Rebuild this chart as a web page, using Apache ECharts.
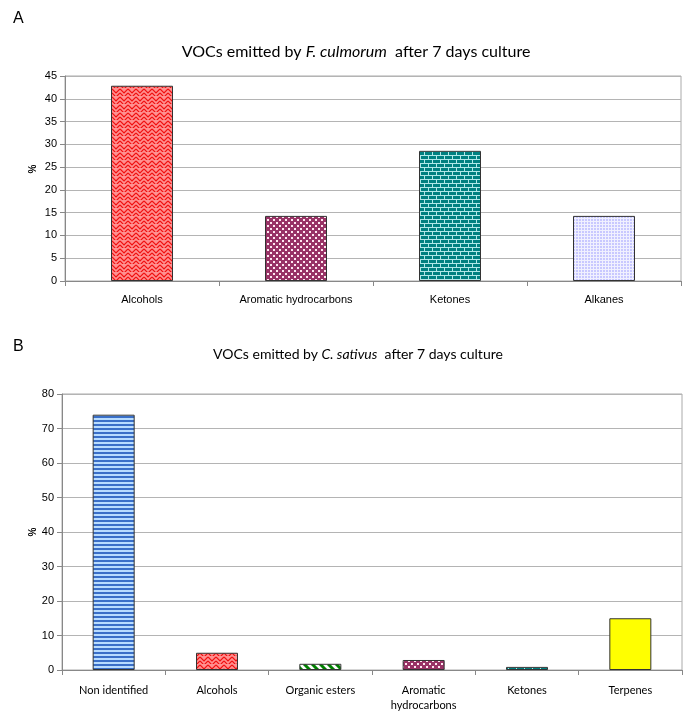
<!DOCTYPE html>
<html><head><meta charset="utf-8">
<script src="https://cdn.jsdelivr.net/npm/echarts@6/dist/echarts.min.js"></script>
<style>html,body{margin:0;padding:0;background:#fff}#c{width:686px;height:713px}</style>
</head><body><div id="c"></div>
<script>
// Panel A data
const catsA = ['Alcohols', 'Aromatic hydrocarbons', 'Ketones', 'Alkanes'];
const valsA = [42.86, 14.29, 28.57, 14.29];
// Panel B data
const catsB = ['Non identified', 'Alcohols', 'Organic esters', 'Aromatic\nhydrocarbons', 'Ketones', 'Terpenes'];
const valsB = [74, 5, 1.8, 2.9, 0.9, 15];
const yTitle = '%';

function pat(w, h, draw) {
  const c = document.createElement('canvas');
  c.width = w; c.height = h;
  const g = c.getContext('2d');
  draw(g);
  return { image: c, repeat: 'repeat' };
}
const P = {
  alcohols: pat(8, 8, g => {
    g.fillStyle = '#ff9090'; g.fillRect(0, 0, 8, 8);
    g.strokeStyle = '#f01010'; g.lineWidth = 1.2;
    g.beginPath(); g.moveTo(0, 1); g.lineTo(4, 5); g.lineTo(8, 1);
    g.moveTo(0, 5); g.lineTo(4, 9); g.lineTo(8, 5);
    g.stroke();
  }),
  aromatic: pat(6, 6, g => {
    g.fillStyle = '#993366'; g.fillRect(0, 0, 6, 6);
    g.fillStyle = '#ffe8f0'; g.fillRect(0, 0, 2, 2); g.fillRect(3, 3, 2, 2);
  }),
  ketones: pat(8, 8, g => {
    g.fillStyle = '#008080'; g.fillRect(0, 0, 8, 8);
    g.fillStyle = '#b0e8e8';
    g.fillRect(0, 3, 8, 1); g.fillRect(0, 7, 8, 1);
    g.fillRect(0, 0, 1, 3); g.fillRect(4, 4, 1, 3);
  }),
  alkanes: pat(3, 3, g => {
    g.fillStyle = '#c8c8ff'; g.fillRect(0, 0, 3, 3);
    g.fillStyle = '#f0f0ff'; g.fillRect(2, 0, 1, 3); g.fillRect(0, 2, 3, 1);
  }),
  nonid: pat(4, 4, g => {
    g.fillStyle = '#3a6fc8'; g.fillRect(0, 0, 4, 2);
    g.fillStyle = '#b8dcff'; g.fillRect(0, 2, 4, 2);
  }),
  esters: pat(8, 8, g => {
    g.fillStyle = '#ffffff'; g.fillRect(0, 0, 8, 8);
    g.strokeStyle = '#008000'; g.lineWidth = 3;
    g.beginPath();
    for (let k = -8; k <= 16; k += 8) { g.moveTo(k, 0); g.lineTo(k + 8, 8); }
    g.stroke();
  }),
  terpenes: '#ffff00'
};
const stylesA = [P.alcohols, P.aromatic, P.ketones, P.alkanes];
const stylesB = [P.nonid, P.alcohols, P.esters, P.aromatic, P.ketones, P.terpenes];

const chart = echarts.init(document.getElementById('c'), null, { renderer: 'canvas' });
const axisLbl = { fontFamily: 'Liberation Sans', fontSize: 11, color: '#000' };
const tn = fs => ({ fontFamily: 'Lato', fontSize: fs, fontWeight: 'normal', color: '#000' });
const ti = fs => ({ fontFamily: 'Lato', fontSize: fs, fontWeight: 'normal', fontStyle: 'italic', color: '#000' });
const pctText = (x, y) => ({ type: 'text', x: x, y: y, rotation: Math.PI / 2,
  style: { text: yTitle, fontFamily: 'Liberation Sans', fontSize: 10, fontWeight: 'bold', fill: '#000', align: 'center', verticalAlign: 'middle' } });
chart.setOption({
  animation: false,
  backgroundColor: '#fff',
  title: [
    { text: 'A', left: 8, top: 6, textStyle: { fontFamily: 'Liberation Sans', fontSize: 16, fontWeight: 'normal', color: '#000' } },
    { text: '{n|VOCs emitted by }{i|F. culmorum}{n|  after 7 days culture}', left: 351, top: 39, textAlign: 'center',
      textStyle: { fontWeight: 'normal', rich: { n: tn(16), i: ti(16) } } },
    { text: 'B', left: 8, top: 334, textStyle: { fontFamily: 'Liberation Sans', fontSize: 16, fontWeight: 'normal', color: '#000' } },
    { text: '{n|VOCs emitted by }{i|C. sativus}{n|  after 7 days culture}', left: 353, top: 342, textAlign: 'center',
      textStyle: { fontWeight: 'normal', rich: { n: tn(14), i: ti(14) } } }
  ],
  graphic: [pctText(33, 169), pctText(33, 532)],
  grid: [
    { left: 65, top: 76, width: 616, height: 205, show: true, borderColor: '#aaa', borderWidth: 1 },
    { left: 62, top: 394, width: 620, height: 277, show: true, borderColor: '#aaa', borderWidth: 1 }
  ],
  xAxis: [
    { type: 'category', gridIndex: 0, data: catsA,
      axisLine: { lineStyle: { color: '#888' } }, axisTick: { show: true, lineStyle: { color: '#888' } },
      axisLabel: Object.assign({ margin: 13 }, axisLbl) },
    { type: 'category', gridIndex: 1, data: catsB,
      axisLine: { lineStyle: { color: '#888' } }, axisTick: { show: true, lineStyle: { color: '#888' } },
      axisLabel: { margin: 13, fontFamily: 'Lato', fontSize: 11, color: '#000', lineHeight: 15, interval: 0 } }
  ],
  yAxis: [
    { type: 'value', gridIndex: 0, min: 0, max: 45, interval: 5,
      axisLine: { show: true, lineStyle: { color: '#888' } }, axisTick: { show: true, lineStyle: { color: '#888' } },
      splitLine: { lineStyle: { color: '#b4b4b4' } }, axisLabel: axisLbl },
    { type: 'value', gridIndex: 1, min: 0, max: 80, interval: 10,
      axisLine: { show: true, lineStyle: { color: '#888' } }, axisTick: { show: true, lineStyle: { color: '#888' } },
      splitLine: { lineStyle: { color: '#b4b4b4' } }, axisLabel: axisLbl }
  ],
  series: [
    { type: 'bar', xAxisIndex: 0, yAxisIndex: 0, barWidth: 62,
      data: valsA.map((v, i) => ({ value: v, itemStyle: { color: stylesA[i], borderColor: '#333', borderWidth: 1 } })) },
    { type: 'bar', xAxisIndex: 1, yAxisIndex: 1, barWidth: 42,
      data: valsB.map((v, i) => ({ value: v, itemStyle: { color: stylesB[i], borderColor: '#333', borderWidth: 1 } })) }
  ]
});
</script></body></html>
